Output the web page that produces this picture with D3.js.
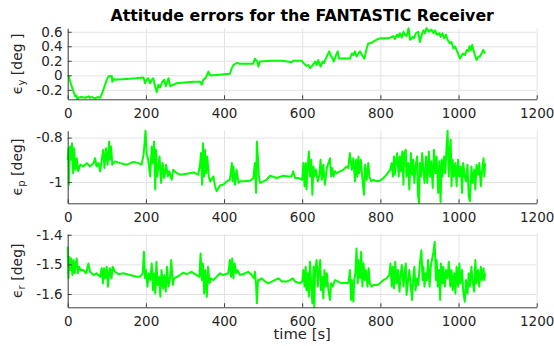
<!DOCTYPE html>
<html>
<head>
<meta charset="utf-8">
<script src="https://cdn.jsdelivr.net/npm/d3@7"></script>
<style>
  body { margin: 0; background: #fff; }
  svg text { font-family: "DejaVu Sans", sans-serif; fill: #262626; }
</style>
</head>
<body>
<svg id="chart" width="554" height="346"></svg>
<script>
// ---- data -------------------------------------------------------------
const chartTitle = "Attitude errors for the FANTASTIC Receiver";
const xLabel = "time [s]";
const xTicks = [0, 200, 400, 600, 800, 1000, 1200];

// yaw error [deg]
const yawTime = [0,3,10,19,22,25,27,35,45,53,57,63,70,77,83,90,100,104,108,113,114,118,121,150,175,194,198,202,206,211,215,219,224,228,232,236,242,247,251,258,262,270,279,300,320,339,343,347,353,360,364,373,394,415,420,424,432,441,460,475,479,485,488,492,520,550,573,576,599,603,611,616,620,627,633,637,641,647,652,656,663,669,674,678,681,688,691,694,710,722,727,731,735,739,744,748,755,759,765,769,778,790,799,820,825,833,837,842,846,850,855,859,863,867,872,876,883,886,891,897,901,906,910,914,918,925,931,936,940,944,951,954,959,963,968,972,978,982,987,991,1000,1004,1011,1017,1021,1025,1028,1032,1035,1038,1042,1046,1051,1055,1059,1063,1068];
const yawErr = [0,-0.02,-0.15,-0.29,-0.28,-0.33,-0.31,-0.30,-0.31,-0.29,-0.31,-0.30,-0.32,-0.30,-0.31,-0.22,-0.06,-0.02,-0.01,-0.01,-0.09,-0.05,-0.06,-0.05,-0.04,-0.03,-0.11,-0.06,-0.04,-0.11,-0.06,-0.04,-0.16,-0.23,-0.13,-0.17,-0.09,-0.06,-0.15,-0.04,-0.15,-0.13,-0.11,-0.10,-0.09,-0.09,-0.13,-0.06,-0.04,0.05,0.00,0.00,0.01,0.02,0.10,0.14,0.17,0.16,0.16,0.16,0.23,0.19,0.12,0.19,0.20,0.20,0.18,0.20,0.20,0.17,0.13,0.14,0.10,0.14,0.19,0.14,0.21,0.12,0.19,0.17,0.26,0.33,0.26,0.23,0.19,0.30,0.33,0.23,0.23,0.23,0.30,0.28,0.33,0.26,0.30,0.33,0.26,0.23,0.37,0.44,0.45,0.49,0.51,0.51,0.52,0.54,0.50,0.56,0.53,0.58,0.52,0.60,0.56,0.54,0.65,0.49,0.53,0.51,0.58,0.60,0.46,0.56,0.62,0.58,0.65,0.60,0.63,0.58,0.62,0.56,0.58,0.53,0.58,0.51,0.56,0.49,0.44,0.46,0.37,0.40,0.28,0.23,0.30,0.28,0.35,0.33,0.40,0.35,0.42,0.35,0.28,0.21,0.26,0.26,0.30,0.35,0.30];

// pitch error [deg]
const pitchTime = [0,2,3,6,9,11,14,16,20,23,27,32,40,49,57,66,70,74,79,83,87,91,94,98,102,106,108,111,114,121,134,151,168,181,189,194,196,199,202,206,211,215,218,221,224,226,229,235,239,243,247,252,256,260,266,270,279,287,305,322,334,339,341,344,346,349,351,354,357,361,364,373,377,381,390,398,407,415,420,422,424,428,432,437,441,450,467,475,479,482,484,487,489,492,501,509,518,535,552,565,573,577,582,590,600,603,606,609,611,614,617,620,623,626,629,631,635,640,644,647,650,654,658,663,667,671,674,677,680,684,688,697,705,714,718,722,727,731,735,738,741,744,746,750,755,758,761,765,769,772,776,782,791,799,808,816,825,829,832,835,837,840,843,847,850,853,856,859,861,865,867,871,874,878,881,884,887,890,894,896,899,901,904,907,910,913,917,920,924,927,930,934,937,941,944,948,951,954,957,959,963,966,970,972,975,977,980,982,985,988,992,995,999,1002,1006,1009,1012,1016,1019,1023,1026,1029,1033,1036,1040,1043,1046,1050,1053,1057,1060,1064,1066,1068];
const pitchErr = [-0.900,-0.848,-1.012,-0.840,-0.900,-0.825,-0.960,-0.848,-0.945,-0.893,-0.952,-0.922,-0.930,-0.915,-0.930,-0.915,-0.893,-0.930,-0.915,-0.952,-0.900,-0.855,-0.937,-0.848,-0.922,-0.818,-0.900,-0.840,-0.922,-0.907,-0.915,-0.922,-0.910,-0.915,-0.922,-0.878,-0.840,-0.769,-0.870,-0.900,-0.975,-0.840,-0.915,-0.818,-1.034,-0.855,-0.975,-0.885,-1.004,-0.915,-0.982,-0.922,-0.975,-0.952,-0.990,-0.945,-0.960,-0.967,-0.963,-0.957,-0.967,-0.915,-0.870,-1.012,-0.825,-0.975,-0.855,-0.960,-0.885,-0.975,-0.997,-0.975,-1.019,-1.042,-1.016,-1.012,-0.997,-0.990,-0.915,-0.997,-0.930,-1.012,-0.945,-1.004,-0.997,-0.997,-0.994,-0.982,-0.915,-1.049,-0.818,-0.900,-0.975,-1.004,-0.997,-0.990,-0.972,-0.982,-0.972,-0.975,-0.975,-0.952,-0.982,-0.982,-0.990,-0.915,-1.019,-0.915,-1.034,-0.937,-0.863,-0.975,-0.900,-1.057,-0.930,-0.975,-0.945,-0.997,-0.967,-0.900,-0.990,-0.922,-1.012,-0.937,-0.915,-0.893,-0.975,-0.937,-0.975,-0.952,-0.960,-0.952,-0.945,-0.930,-0.937,-0.870,-0.945,-0.893,-0.997,-0.900,-0.975,-0.885,-0.960,-0.900,-1.004,-1.057,-0.922,-0.990,-0.915,-0.975,-0.997,-0.990,-0.997,-0.994,-0.982,-0.967,-0.945,-0.915,-0.975,-0.885,-0.967,-0.907,-0.870,-0.975,-0.885,-0.952,-0.863,-1.012,-0.870,-0.855,-0.975,-0.915,-1.034,-0.870,-0.967,-0.900,-1.004,-0.930,-0.885,-1.057,-1.095,-0.915,-0.975,-0.870,-0.945,-1.004,-0.885,-1.004,-0.863,-0.975,-0.907,-1.027,-0.855,-0.960,-0.885,-1.049,-0.907,-1.090,-0.900,-0.975,-0.885,-0.960,-0.825,-0.769,-0.975,-0.870,-0.810,-1.019,-0.900,-0.975,-0.915,-1.019,-0.900,-0.975,-0.930,-1.049,-0.915,-0.975,-0.997,-0.922,-1.064,-1.087,-0.930,-1.004,-0.945,-1.034,-0.922,-0.967,-0.915,-1.019,-0.952,-0.893,-0.975,-0.915];

// roll error [deg]
const rollTime = [0,2,4,7,9,12,15,18,20,23,26,29,33,40,47,53,57,66,74,83,87,90,93,96,100,103,106,108,112,115,121,130,142,159,177,185,192,195,198,200,204,207,211,215,218,221,224,227,230,234,237,240,244,247,251,254,258,262,265,269,272,279,287,296,304,317,330,337,340,343,346,349,352,356,359,363,366,373,381,390,398,411,415,418,421,424,427,431,434,441,454,462,471,477,479,482,484,487,491,496,505,513,522,539,548,560,569,576,582,594,600,603,606,609,611,614,617,620,623,626,629,631,633,637,640,642,646,648,651,654,657,660,663,667,671,674,678,684,692,701,710,716,719,722,725,727,731,733,736,739,742,744,748,751,754,757,760,763,767,770,773,778,782,791,799,808,816,823,826,829,832,835,838,842,845,849,852,855,859,862,865,867,871,874,878,881,884,887,890,894,897,901,905,908,910,913,916,919,922,926,929,932,936,939,942,944,947,950,953,955,959,961,965,968,972,975,979,982,985,989,992,995,999,1002,1005,1009,1012,1016,1019,1023,1026,1029,1033,1036,1040,1043,1046,1050,1053,1057,1060,1064,1066,1068];
const rollErr = [-1.440,-1.547,-1.474,-1.519,-1.480,-1.536,-1.485,-1.530,-1.502,-1.480,-1.530,-1.508,-1.519,-1.519,-1.530,-1.497,-1.525,-1.536,-1.530,-1.542,-1.513,-1.564,-1.513,-1.547,-1.508,-1.575,-1.530,-1.513,-1.547,-1.508,-1.525,-1.533,-1.530,-1.536,-1.542,-1.542,-1.530,-1.457,-1.547,-1.519,-1.575,-1.530,-1.553,-1.497,-1.587,-1.530,-1.598,-1.491,-1.570,-1.542,-1.609,-1.519,-1.581,-1.536,-1.592,-1.508,-1.575,-1.542,-1.485,-1.570,-1.547,-1.542,-1.536,-1.528,-1.533,-1.525,-1.536,-1.542,-1.463,-1.553,-1.497,-1.598,-1.519,-1.609,-1.508,-1.564,-1.547,-1.553,-1.542,-1.530,-1.536,-1.530,-1.485,-1.542,-1.480,-1.547,-1.497,-1.530,-1.519,-1.536,-1.530,-1.525,-1.536,-1.547,-1.525,-1.570,-1.631,-1.553,-1.553,-1.547,-1.558,-1.564,-1.558,-1.547,-1.558,-1.558,-1.553,-1.547,-1.558,-1.564,-1.558,-1.519,-1.575,-1.508,-1.587,-1.530,-1.609,-1.491,-1.575,-1.631,-1.508,-1.645,-1.519,-1.485,-1.575,-1.536,-1.485,-1.587,-1.542,-1.615,-1.519,-1.575,-1.530,-1.587,-1.620,-1.564,-1.575,-1.553,-1.558,-1.564,-1.562,-1.564,-1.558,-1.519,-1.620,-1.553,-1.626,-1.553,-1.530,-1.446,-1.564,-1.485,-1.547,-1.457,-1.575,-1.497,-1.553,-1.519,-1.575,-1.513,-1.564,-1.575,-1.570,-1.570,-1.564,-1.553,-1.547,-1.536,-1.497,-1.575,-1.508,-1.581,-1.491,-1.564,-1.519,-1.592,-1.530,-1.502,-1.575,-1.525,-1.497,-1.603,-1.553,-1.519,-1.575,-1.620,-1.547,-1.508,-1.587,-1.547,-1.570,-1.497,-1.452,-1.553,-1.508,-1.575,-1.530,-1.553,-1.485,-1.575,-1.508,-1.485,-1.457,-1.424,-1.553,-1.485,-1.575,-1.519,-1.620,-1.497,-1.564,-1.508,-1.575,-1.519,-1.547,-1.491,-1.575,-1.519,-1.587,-1.530,-1.598,-1.508,-1.575,-1.497,-1.564,-1.519,-1.592,-1.626,-1.553,-1.598,-1.530,-1.575,-1.508,-1.558,-1.592,-1.485,-1.564,-1.519,-1.575,-1.508,-1.553,-1.513,-1.553,-1.530];

// y-axis ticks, limits and labels of the three panels
const yawTicks = [-0.2, 0, 0.2, 0.4, 0.6];
const pitchTicks = [-1, -0.8];
const rollTicks = [-1.6, -1.5, -1.4];
const yawLimits = [-0.331, 0.648];
const pitchLimits = [-1.096, -0.769];
const rollLimits = [-1.645, -1.398];

// ---- layout -----------------------------------------------------------
const svg = d3.select("#chart");
const left = 67.7, right = 536.7;
const x = d3.scaleLinear().domain([0, 1200]).range([left, right]);

const panels = [
  { time: yawTime, err: yawErr, ticks: yawTicks, limits: yawLimits, top: 28.3, bottom: 99.3, sub: "y", unit: " [deg ]" },
  { time: pitchTime, err: pitchErr, ticks: pitchTicks, limits: pitchLimits, top: 130.7, bottom: 203.3, sub: "p", unit: " [deg]" },
  { time: rollTime, err: rollErr, ticks: rollTicks, limits: rollLimits, top: 234.2, bottom: 307.3, sub: "r", unit: " [deg]" }
];

const fmt = d => String(d);   // plain hyphen minus, e.g. "-0.2"
const axisColor = "#404040";
const gridColor = "#e3e3e3";

panels.forEach(p => {
  const y = d3.scaleLinear().domain(p.limits).range([p.bottom, p.top]);
  const g = svg.append("g");

  // grid
  g.append("g")
    .attr("transform", `translate(0,${p.bottom})`)
    .call(d3.axisBottom(x).tickValues(xTicks).tickSize(-(p.bottom - p.top)).tickFormat(""))
    .call(s => s.select(".domain").remove())
    .call(s => s.selectAll("line").attr("stroke", gridColor));
  g.append("g")
    .attr("transform", `translate(${left},0)`)
    .call(d3.axisLeft(y).tickValues(p.ticks).tickSize(-(right - left)).tickFormat(""))
    .call(s => s.select(".domain").remove())
    .call(s => s.selectAll("line").attr("stroke", gridColor));

  // data line
  const pts = p.time.map((t, i) => [t, p.err[i]]);
  g.append("path")
    .datum(pts)
    .attr("fill", "none")
    .attr("stroke", "#00ff00")
    .attr("stroke-width", 2)
    .attr("stroke-linejoin", "round")
    .attr("d", d3.line().x(d => x(d[0])).y(d => y(d[1])));

  // axes with inward ticks
  const xa = g.append("g")
    .attr("transform", `translate(0,${p.bottom})`)
    .call(d3.axisBottom(x).tickValues(xTicks).tickFormat(fmt).tickSizeInner(-4).tickSizeOuter(0).tickPadding(9));
  const ya = g.append("g")
    .attr("transform", `translate(${left},0)`)
    .call(d3.axisLeft(y).tickValues(p.ticks).tickFormat(fmt).tickSizeInner(-4).tickSizeOuter(0).tickPadding(5));
  [xa, ya].forEach(a => {
    a.select(".domain").attr("stroke", axisColor);
    a.selectAll("line").attr("stroke", axisColor);
    a.selectAll("text").attr("font-size", 13.5).attr("font-family", "DejaVu Sans").attr("fill", "#262626");
  });

  // y label
  const cy = (p.top + p.bottom) / 2;
  const lab = g.append("text")
    .attr("transform", `translate(22,${cy}) rotate(-90)`)
    .attr("text-anchor", "middle")
    .attr("font-size", 14);
  lab.append("tspan").text("\u03f5");
  lab.append("tspan").attr("font-size", 10).attr("dy", 3).text(p.sub);
  lab.append("tspan").attr("dy", -3).text(p.unit);
});

// title
svg.append("text")
  .attr("x", (left + right) / 2)
  .attr("y", 20.5)
  .attr("text-anchor", "middle")
  .attr("font-size", 15.8)
  .attr("font-weight", "bold")
  .style("fill", "#000")
  .text(chartTitle);

// x label
svg.append("text")
  .attr("x", (left + right) / 2)
  .attr("y", 339)
  .attr("text-anchor", "middle")
  .attr("font-size", 14.8)
  .text(xLabel);
</script>
</body>
</html>
